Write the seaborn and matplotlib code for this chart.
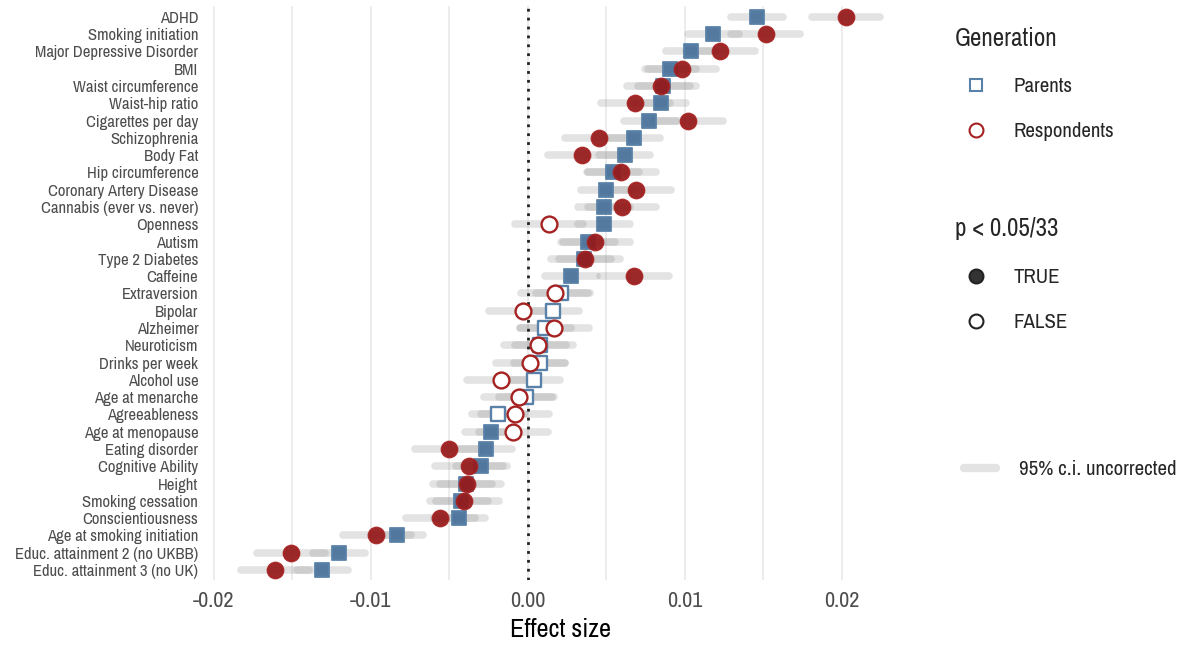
#####################################################
## Requirements
import numpy as np
import pandas as pd
import seaborn as sns
import matplotlib
matplotlib.use('Agg')
import matplotlib.pyplot as plt
from matplotlib.lines import Line2D
#####################################################


#####################################################
## Data (top row first)
traits = ['ADHD', 'Smoking initiation', 'Major Depressive Disorder', 'BMI',
          'Waist circumference', 'Waist-hip ratio', 'Cigarettes per day',
          'Schizophrenia', 'Body Fat', 'Hip circumference',
          'Coronary Artery Disease', 'Cannabis (ever vs. never)', 'Openness',
          'Autism', 'Type 2 Diabetes', 'Caffeine', 'Extraversion', 'Bipolar',
          'Alzheimer', 'Neuroticism', 'Drinks per week', 'Alcohol use',
          'Age at menarche', 'Agreeableness', 'Age at menopause',
          'Eating disorder', 'Cognitive Ability', 'Height',
          'Smoking cessation', 'Conscientiousness',
          'Age at smoking initiation', 'Educ. attainment 2 (no UKBB)',
          'Educ. attainment 3 (no UK)']

par_est = [0.0146, 0.01183, 0.01043, 0.00909, 0.00862, 0.00847, 0.00773,
           0.00677, 0.00618, 0.00543, 0.00501, 0.00484, 0.00484, 0.00384,
           0.00359, 0.00274, 0.00215, 0.00161, 0.00113, 0.00076, 0.00076,
           0.0004, -0.00013, -0.00189, -0.00236, -0.00268, -0.00295,
           -0.00395, -0.00427, -0.00435, -0.00832, -0.01204, -0.0131]
par_lo = [0.01297, 0.01021, 0.00879, 0.00745, 0.007, 0.00682, 0.00611,
          0.0051, 0.00452, 0.00382, 0.00338, 0.00318, 0.00318, 0.00215,
          0.00197, 0.00108, 0.00051, -0.00006, -0.00051, -0.00083, -0.00089,
          -0.00134, -0.00185, -0.00355, -0.00401, -0.00433, -0.00454,
          -0.00556, -0.00586, -0.00599, -0.00997, -0.01369, -0.01473]
par_hi = [0.01626, 0.01346, 0.01203, 0.0107, 0.01032, 0.01011, 0.00943,
          0.00845, 0.00782, 0.00707, 0.00669, 0.0065, 0.0065, 0.00554,
          0.00533, 0.00441, 0.00382, 0.00327, 0.00278, 0.00246, 0.0024,
          0.00206, 0.00153, -0.00025, -0.0007, -0.001, -0.00129, -0.00229,
          -0.00255, -0.00269, -0.00667, -0.01038, -0.01145]
par_sig = [True] * 16 + [False] * 8 + [True] * 9

res_est = [0.0203, 0.01518, 0.01227, 0.00981, 0.00852, 0.00683, 0.01024,
           0.00457, 0.00346, 0.00597, 0.00692, 0.00601, 0.00136, 0.00431,
           0.00368, 0.00677, 0.00176, -0.0003, 0.00168, 0.00068, 0.00015,
           -0.00172, -0.00057, -0.00083, -0.00094, -0.00501, -0.00371,
           -0.00387, -0.00406, -0.0056, -0.00964, -0.01511, -0.01611]
res_lo = [0.01813, 0.01297, 0.0101, 0.00764, 0.00631, 0.00469, 0.00803,
          0.0024, 0.00127, 0.00376, 0.00471, 0.00382, -0.00083, 0.00223,
          0.00151, 0.00459, -0.0004, -0.00246, -0.00051, -0.00151, -0.00204,
          -0.0039, -0.0028, -0.00299, -0.00312, -0.0072, -0.00588, -0.00603,
          -0.00624, -0.00777, -0.0118, -0.01728, -0.0183]
res_hi = [0.02248, 0.01732, 0.01446, 0.01197, 0.0107, 0.00904, 0.01244,
          0.00673, 0.00567, 0.00815, 0.00915, 0.0082, 0.0035, 0.0065,
          0.00586, 0.00898, 0.00399, 0.00185, 0.00389, 0.00289, 0.00236,
          0.00045, 0.00166, 0.00136, 0.00129, -0.00287, -0.00155, -0.00168,
          -0.00185, -0.00338, -0.00745, -0.01293, -0.01393]
res_sig = [True] * 12 + [False] + [True] * 3 + [False] * 9 + [True] * 8

xticks = [-0.02, -0.01, 0.0, 0.01, 0.02]
xticklabels = ['-0.02', '-0.01', '0.00', '0.01', '0.02']
#####################################################


#####################################################
## Long table for seaborn
n = len(traits)
df = pd.concat([
    pd.DataFrame({'trait': traits, 'pos': np.arange(n), 'est': par_est,
                  'lo': par_lo, 'hi': par_hi, 'sig': par_sig,
                  'gen': 'Parents'}),
    pd.DataFrame({'trait': traits, 'pos': np.arange(n), 'est': res_est,
                  'lo': res_lo, 'hi': res_hi, 'sig': res_sig,
                  'gen': 'Respondents'}),
], ignore_index=True)

styles = {'Parents': dict(marker='s', color='#48709a', edge='#5a82a8', s=115),
          'Respondents': dict(marker='o', color='#951818', edge='#a52222', s=130)}
#####################################################


#####################################################
## Plot
sns.set_theme(style='white')
plt.rcParams['font.family'] = ['Archivo Narrow', 'DejaVu Sans']

fig = plt.figure(figsize=(11.84, 6.47), dpi=100)
ax = fig.add_axes([0.1757, 0.103, 0.595, 0.887])

# grid every 0.005
for g in np.arange(-0.02, 0.0251, 0.005):
    ax.axvline(g, color='#ebebeb', lw=1.3, zorder=0)

# confidence intervals
for gen in ['Parents', 'Respondents']:
    d = df[df.gen == gen]
    ax.hlines(d.pos, d.lo, d.hi, color='#7c7c7c', alpha=0.21, lw=5.5,
              capstyle='round', zorder=1)

ax.axvline(0, color='#222222', lw=2, ls=(0, (1, 2.2)), zorder=2)

for gen in ['Parents', 'Respondents']:
    st = styles[gen]
    d = df[(df.gen == gen) & df.sig]
    sns.scatterplot(data=d, x='est', y='pos', marker=st['marker'],
                    color=st['color'], edgecolor=st['edge'], linewidth=1.4,
                    s=st['s'], alpha=0.92, ax=ax, zorder=3, legend=False)
    d = df[(df.gen == gen) & ~df.sig]
    sns.scatterplot(data=d, x='est', y='pos', marker=st['marker'],
                    color='white', edgecolor=st['edge'], linewidth=1.7,
                    s=st['s'], ax=ax, zorder=3, legend=False)

ax.set_xlim(-0.02037, 0.02452)
ax.set_ylim(n - 0.4, -0.6)
ax.set_yticks(range(n))
ax.set_yticklabels(traits, fontsize=12, color='#4d4d4d')
ax.set_xticks(xticks)
ax.set_xticklabels(xticklabels, fontsize=16, color='#4d4d4d')
ax.tick_params(axis='y', length=0, pad=7)
ax.tick_params(axis='x', length=0, pad=8)
ax.set_xlabel('Effect size', fontsize=19, color='black', labelpad=5)
ax.set_ylabel('')
sns.despine(ax=ax, left=True, bottom=True)
#####################################################


#####################################################
## Legends
gen_handles = [Line2D([], [], ls='', marker='s', ms=9, mfc='white',
                      mec=styles['Parents']['edge'], mew=1.5),
               Line2D([], [], ls='', marker='o', ms=10, mfc='white',
                      mec=styles['Respondents']['edge'], mew=1.5)]
leg1 = fig.legend(gen_handles, ['Parents', 'Respondents'], title='Generation',
                  loc='upper left', bbox_to_anchor=(0.798, 0.975),
                  frameon=False, fontsize=15, title_fontsize=18,
                  labelspacing=1.25, handletextpad=0.8, borderpad=0)
leg1._legend_box.align = 'left'
leg1._legend_box.sep = 20

sig_handles = [Line2D([], [], ls='', marker='o', ms=10, mfc='#333333',
                      mec='#222222', mew=1.5),
               Line2D([], [], ls='', marker='o', ms=10, mfc='white',
                      mec='#222222', mew=1.5)]
leg2 = fig.legend(sig_handles, ['TRUE', 'FALSE'], title='p < 0.05/33',
                  loc='upper left', bbox_to_anchor=(0.798, 0.68),
                  frameon=False, fontsize=15, title_fontsize=18,
                  labelspacing=1.25, handletextpad=0.8, borderpad=0)
leg2._legend_box.align = 'left'
leg2._legend_box.sep = 20

ci_handle = [Line2D([], [], color='#e3e3e3', lw=6)]
leg3 = fig.legend(ci_handle, ['95% c.i. uncorrected'], loc='center left',
                  bbox_to_anchor=(0.805, 0.274), frameon=False, fontsize=15,
                  handlelength=1.55, handletextpad=1.1, borderpad=0)

fig.savefig('out.png', dpi=100)
#####################################################
